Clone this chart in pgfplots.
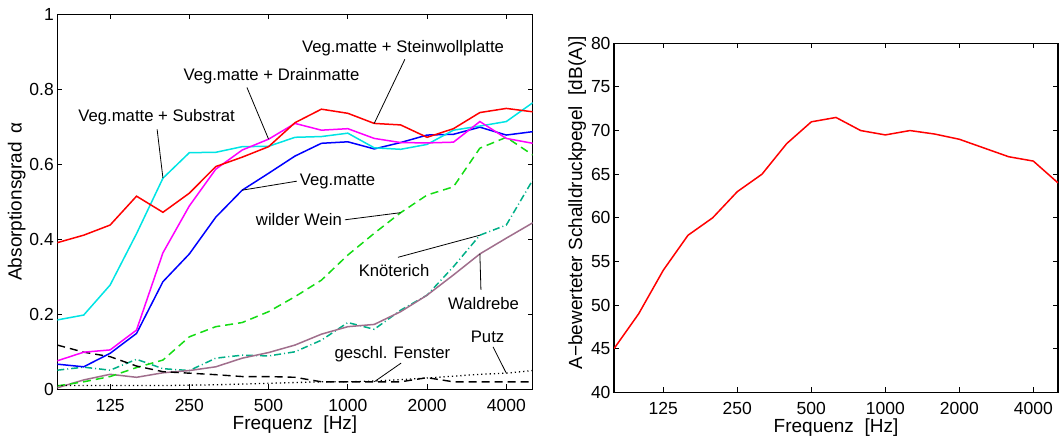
\documentclass[border=0pt]{standalone}
\usepackage{fontspec}
\setmainfont{Liberation Sans}
\usepackage{pgfplots}
\usepackage{pgfplotstable}
\pgfplotsset{compat=1.18}

\definecolor{cRed}{RGB}{255,0,0}
\definecolor{cBlue}{RGB}{0,0,255}
\definecolor{cMag}{RGB}{255,0,255}
\definecolor{cCyan}{RGB}{0,228,228}
\definecolor{cGreen}{RGB}{20,220,20}
\definecolor{cTeal}{RGB}{0,175,135}
\definecolor{cMauve}{RGB}{160,110,140}

\newcommand\annot{\fontsize{16.7pt}{19pt}\selectfont}

% index: 0..18 = 80,100,125,...,5000 Hz (third-octave bands)
\pgfplotstableread{
i f stein drain substrat veg wein knot wald fenster putz
0 80 0.391 0.076 0.185 0.067 0.009 0.051 0.004 0.118 0.010
1 100 0.411 0.099 0.198 0.060 0.020 0.059 0.025 0.099 0.010
2 125 0.438 0.105 0.278 0.096 0.034 0.051 0.040 0.087 0.010
3 160 0.515 0.158 0.415 0.149 0.058 0.080 0.032 0.062 0.010
4 200 0.472 0.364 0.563 0.287 0.078 0.055 0.044 0.047 0.010
5 250 0.523 0.489 0.631 0.361 0.140 0.050 0.050 0.043 0.011
6 315 0.594 0.587 0.632 0.459 0.167 0.083 0.060 0.039 0.012
7 400 0.619 0.638 0.647 0.531 0.178 0.091 0.083 0.034 0.014
8 500 0.647 0.667 0.648 0.576 0.207 0.089 0.098 0.034 0.016
9 630 0.711 0.709 0.672 0.622 0.247 0.100 0.118 0.032 0.018
10 800 0.747 0.691 0.674 0.656 0.291 0.131 0.147 0.020 0.020
11 1000 0.736 0.695 0.683 0.660 0.358 0.178 0.167 0.020 0.020
12 1250 0.709 0.669 0.644 0.641 0.416 0.160 0.173 0.020 0.022
13 1600 0.705 0.658 0.640 0.658 0.471 0.211 0.207 0.020 0.026
14 2000 0.672 0.657 0.653 0.678 0.518 0.251 0.251 0.031 0.030
15 2500 0.695 0.659 0.691 0.680 0.540 0.327 0.305 0.020 0.035
16 3150 0.738 0.714 0.702 0.699 0.643 0.411 0.361 0.020 0.040
17 4000 0.749 0.669 0.714 0.678 0.672 0.438 0.403 0.020 0.043
18 5000 0.740 0.656 0.764 0.687 0.625 0.558 0.444 0.020 0.050
}\absorb

\pgfplotstableread{
i f L
0 80 45.0
1 100 49.0
2 125 54.0
3 160 58.0
4 200 60.0
5 250 63.0
6 315 65.0
7 400 68.5
8 500 71.0
9 630 71.5
10 800 70.0
11 1000 69.5
12 1250 70.0
13 1600 69.6
14 2000 69.0
15 2500 68.0
16 3150 67.0
17 4000 66.5
18 5000 64.0
}\pegel

\pgfplotsset{
  mystyle/.style={
    scale only axis,
    anchor=south west,
    xmin=0, xmax=18,
    xtick={2,5,8,11,14,17},
    xticklabels={125,250,500,1000,2000,4000},
    tick align=inside,
    xtick pos=both, ytick pos=both,
    major tick length=5pt,
    axis line style={line width=1.1pt},
    every tick/.style={line width=0.9pt, black},
    tick label style={font=\fontsize{17.5pt}{20pt}\selectfont},
    xticklabel style={inner sep=1pt, yshift=-9pt},
    label style={font=\fontsize{19pt}{22pt}\selectfont},
    /pgf/number format/assume math mode=true,
    xlabel={Frequenz\ \ [Hz]},
    xlabel style={inner sep=1pt, yshift=-2pt},
  },
}

\begin{document}
\begin{tikzpicture}
\useasboundingbox (0,0) rectangle (1061pt,437pt);

\begin{axis}[mystyle,
  at={(57.3pt,47.7pt)}, width=475.4pt, height=375pt,
  ymin=0, ymax=1, ytick={0,0.2,0.4,0.6,0.8,1},
  ylabel={Absorptionsgrad\ \,α},
  ylabel style={yshift=-3pt},
]
\addplot[cTeal, line width=1.5pt, dash pattern=on 7pt off 3pt on 1pt off 3pt] table[x=i,y=knot] {\absorb};
\addplot[cMauve, line width=1.5pt] table[x=i,y=wald] {\absorb};
\addplot[cGreen, line width=1.5pt, dash pattern=on 8pt off 5pt] table[x=i,y=wein] {\absorb};
\addplot[black, line width=1.3pt, dash pattern=on 1.2pt off 3pt] table[x=i,y=putz] {\absorb};
\addplot[black, line width=1.4pt, dash pattern=on 8pt off 5pt] table[x=i,y=fenster] {\absorb};
\addplot[cBlue, line width=1.5pt] table[x=i,y=veg] {\absorb};
\addplot[cCyan, line width=1.5pt] table[x=i,y=substrat] {\absorb};
\addplot[cMag, line width=1.5pt] table[x=i,y=drain] {\absorb};
\addplot[cRed, line width=1.5pt] table[x=i,y=stein] {\absorb};

\node[font=\annot] at (axis cs:13.09,0.910) {Veg.matte + Steinwollplatte};
\draw[line width=0.8pt] (axis cs:13.16,0.880) -- (axis cs:12,0.709);
\node[font=\annot] at (axis cs:8.11,0.835) {Veg.matte + Drainmatte};
\draw[line width=0.8pt] (axis cs:7.18,0.805) -- (axis cs:8,0.667);
\node[font=\annot] at (axis cs:3.76,0.726) {Veg.matte + Substrat};
\draw[line width=0.8pt] (axis cs:3.78,0.693) -- (axis cs:4,0.563);
\node[font=\annot] at (axis cs:10.61,0.555) {Veg.matte};
\draw[line width=0.8pt] (axis cs:9.07,0.555) -- (axis cs:7,0.531);
\node[font=\annot] at (axis cs:9.15,0.452) {wilder Wein};
\draw[line width=0.8pt] (axis cs:10.89,0.452) -- (axis cs:13,0.471);
\node[font=\annot] at (axis cs:12.75,0.318) {Knöterich};
\draw[line width=0.8pt] (axis cs:12.9,0.352) -- (axis cs:16,0.411);
\node[font=\annot] at (axis cs:16.14,0.230) {Waldrebe};
\draw[line width=0.8pt] (axis cs:16.04,0.265) -- (axis cs:16,0.361);
\node[font=\annot] at (axis cs:12.69,0.094) {geschl. Fenster};
\draw[line width=0.8pt] (axis cs:13.02,0.070) -- (axis cs:12,0.020);
\node[font=\annot] at (axis cs:16.29,0.139) {Putz};
\draw[line width=0.8pt] (axis cs:16.5,0.113) -- (axis cs:17,0.043);
\end{axis}

\begin{axis}[mystyle,
  at={(614pt,44.7pt)}, width=444pt, height=349pt,
  ymin=40, ymax=80, ytick={40,45,...,80},
  ylabel={A−bewerteter Schalldruckpegel\ \ [dB(A)]},
  ylabel style={at={(ticklabel cs:0.543)}, yshift=-2pt},
]
\addplot[cRed, line width=1.5pt] table[x=i,y=L] {\pegel};
\end{axis}
\end{tikzpicture}
\end{document}
